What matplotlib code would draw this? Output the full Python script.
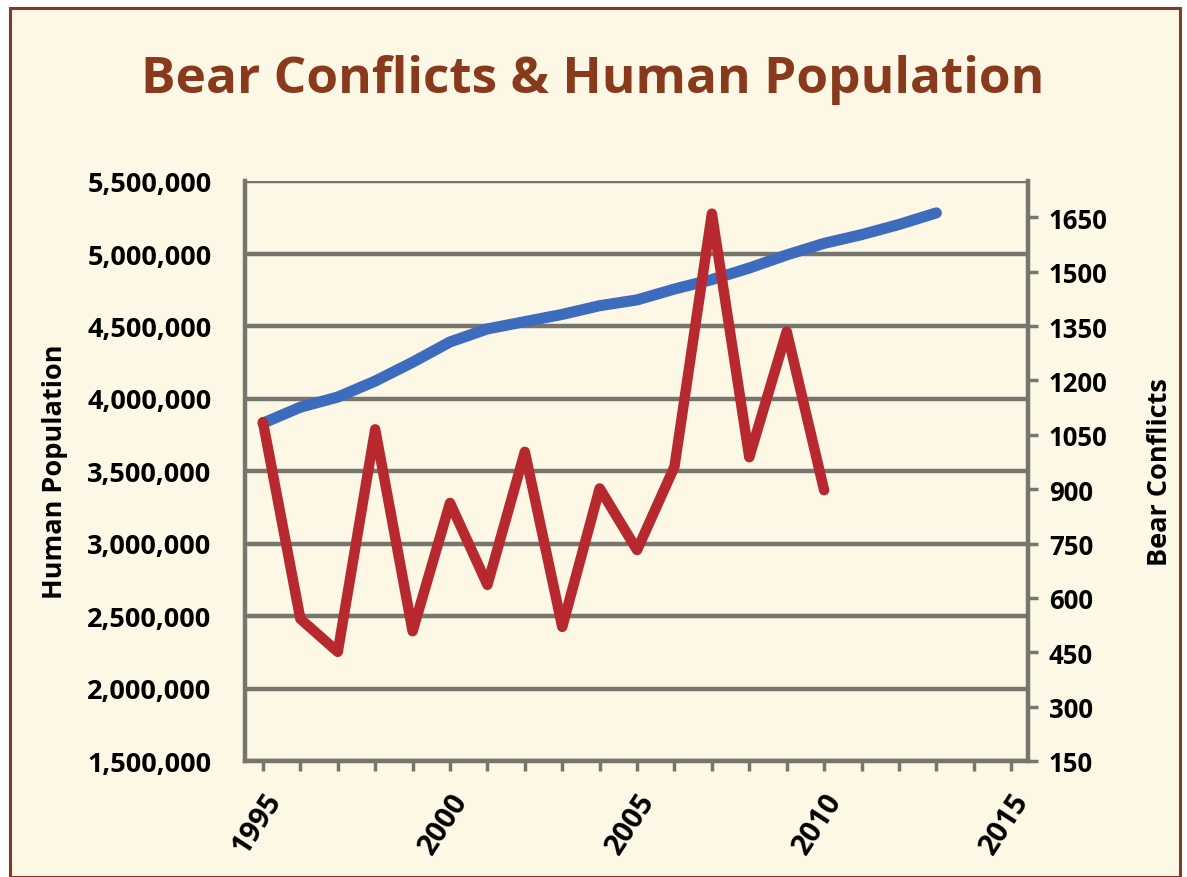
import matplotlib
matplotlib.use("Agg")
import matplotlib.pyplot as plt
from matplotlib.ticker import FuncFormatter, MultipleLocator
from matplotlib.patches import Rectangle

# Human population by year
pop_years = [1995, 1996, 1997, 1998, 1999, 2000, 2001, 2002, 2003, 2004,
             2005, 2006, 2007, 2008, 2009, 2010, 2011, 2012, 2013]
population = [3830000, 3940000, 4010000, 4120000, 4250000, 4390000, 4480000,
              4530000, 4580000, 4640000, 4680000, 4755000, 4820000, 4900000,
              4990000, 5070000, 5130000, 5200000, 5280000]

# Reported bear conflicts by year
conf_years = [1995, 1996, 1997, 1998, 1999, 2000, 2001, 2002, 2003, 2004,
              2005, 2006, 2007, 2008, 2009, 2010]
conflicts = [1085, 542, 451, 1065, 508, 862, 636, 1003, 520, 902,
             732, 962, 1660, 988, 1335, 897]

x_ticks = [1995, 2000, 2005, 2010, 2015]
left_ticks = [1500000, 2000000, 2500000, 3000000, 3500000, 4000000, 4500000, 5000000, 5500000]
right_ticks = [150, 300, 450, 600, 750, 900, 1050, 1200, 1350, 1500, 1650]

BG = "#fcf8e5"
GRID = "#77766e"
TITLE = "#8a3a1c"
BLUE = "#3d6cbf"
RED = "#b8282f"
FONT = "Open Sans"

fig = plt.figure(figsize=(11.87, 8.78), dpi=100)
fig.patch.set_facecolor("white")

# cream panel with a brown frame
fig.patches.append(Rectangle((10 / 1187, 0.0), 1170 / 1187, 1 - 9 / 878,
                             transform=fig.transFigure, facecolor=BG,
                             edgecolor="#7e3b2a", linewidth=2.2, zorder=-10))

ax = fig.add_axes([245 / 1187, 1 - 762 / 878, (1028 - 245) / 1187, (762 - 182) / 878])
ax.set_facecolor(BG)
ax.set_xlim(1994.52, 2015.45)
ax.set_ylim(1500000, 5500000)
ax.set_yticks(left_ticks)
ax.yaxis.set_major_formatter(FuncFormatter(lambda v, p: f"{int(v):,}"))
ax.set_xticks(x_ticks)
ax.xaxis.set_minor_locator(MultipleLocator(1))
ax.grid(axis="y", color=GRID, linewidth=3.2, zorder=0)
ax.set_axisbelow(True)

for side in ["left", "bottom"]:
    ax.spines[side].set_color(GRID)
    ax.spines[side].set_linewidth(3.2)
ax.spines["top"].set_visible(False)
ax.spines["right"].set_visible(False)

ax.tick_params(axis="y", length=0, pad=24, labelsize=19.5)
ax.tick_params(axis="x", which="both", direction="out", color=GRID, width=2.5, length=7)
ax.tick_params(axis="x", which="major", labelsize=21, pad=12)
for lab in ax.get_yticklabels():
    lab.set_fontweight("bold")
    lab.set_fontfamily(FONT)
for lab in ax.get_xticklabels():
    lab.set_fontweight("bold")
    lab.set_fontfamily(FONT)
    lab.set_rotation(57)
    lab.set_ha("right")
    lab.set_va("top")
    lab.set_rotation_mode("anchor")

ax.set_ylabel("Human Population", fontsize=19.5, fontweight="bold", family=FONT, labelpad=14)

ax.plot(pop_years, population, color=BLUE, linewidth=8, solid_capstyle="round",
        solid_joinstyle="round", zorder=3)

ax2 = ax.twinx()
ax2.set_ylim(150, 1750)
ax2.set_yticks(right_ticks)
for side in ["left", "bottom", "top"]:
    ax2.spines[side].set_visible(False)
ax2.spines["right"].set_color(GRID)
ax2.spines["right"].set_linewidth(3.2)
ax2.tick_params(axis="y", direction="out", color=GRID, width=2.5, length=7,
                labelsize=18.5, pad=8)
for lab in ax2.get_yticklabels():
    lab.set_fontweight("bold")
    lab.set_fontfamily(FONT)
ax2.set_ylabel("Bear Conflicts", fontsize=19.5, fontweight="bold", family=FONT, labelpad=28)

ax2.plot(conf_years, conflicts, color=RED, linewidth=7.5, solid_capstyle="round",
         solid_joinstyle="round", zorder=3)

fig.text(593 / 1187, 1 - 80 / 878, "Bear Conflicts & Human Population",
         ha="center", va="center", fontsize=37, fontweight="bold",
         color=TITLE, family=FONT)

fig.savefig("out.png", dpi=100, facecolor=fig.get_facecolor())
